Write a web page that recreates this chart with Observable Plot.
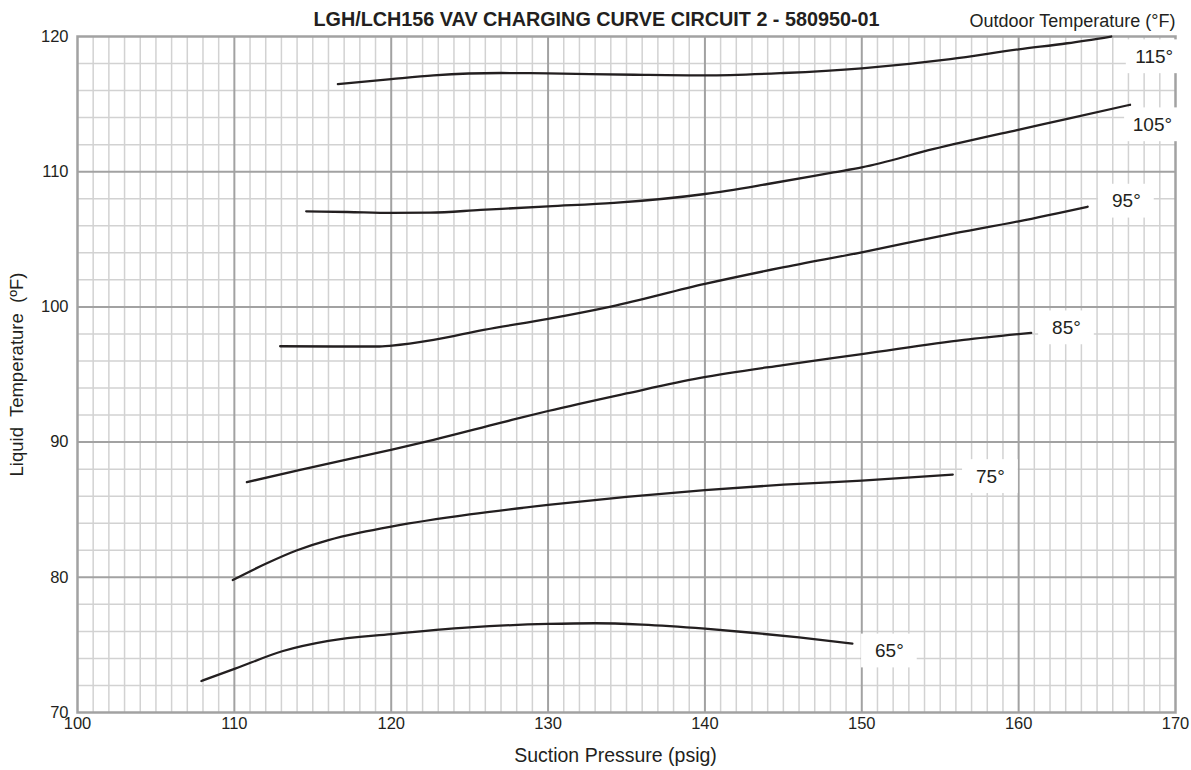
<!DOCTYPE html>
<html><head><meta charset="utf-8">
<script src="https://cdn.jsdelivr.net/npm/d3@7"></script>
<script src="https://cdn.jsdelivr.net/npm/@observablehq/plot@0.6"></script>
<style>body{margin:0;background:#fff;font-family:"Liberation Sans",Arial,sans-serif}</style>
</head><body><div id="chart"></div>
<script>
// Outdoor temperature series (°F)
const outdoorTemps = [65, 75, 85, 95, 105, 115];

// Suction pressure (psig) and liquid temperature (°F) per curve
const suction65 = [107.9, 110.05, 113.1, 116, 120, 125, 130, 133, 136, 140, 143, 146, 149.4];
const liquid65  = [72.33, 73.24, 74.55, 75.3, 75.8, 76.3, 76.55, 76.6, 76.5, 76.2, 75.9, 75.55, 75.1];

const suction75 = [109.9, 112, 114, 116, 118, 120, 125, 130, 135, 140, 145, 150, 155.8];
const liquid75  = [79.8, 81.0, 82.0, 82.75, 83.3, 83.75, 84.65, 85.35, 85.95, 86.45, 86.85, 87.15, 87.6];

const suction85 = [110.8, 114.2, 120.05, 122.7, 126.95, 130, 135, 139.7, 145, 150, 156.5, 160.8];
const liquid85  = [87.04, 87.95, 89.45, 90.17, 91.42, 92.3, 93.6, 94.75, 95.7, 96.5, 97.56, 98.08];

const suction95 = [112.92, 116.3, 119.1, 120.05, 122.7, 125.9, 130, 134, 140, 144.8, 150, 155.4, 160, 164.4];
const liquid95  = [97.09, 97.07, 97.07, 97.14, 97.56, 98.3, 99.11, 100.02, 101.7, 102.88, 104.04, 105.32, 106.33, 107.41];

const suction105 = [114.58, 117.2, 120.05, 122.5, 125.7, 130, 134.2, 140, 144, 148.2, 150, 154.6, 159.9, 163.1, 167.1];
const liquid105  = [107.07, 107.02, 106.95, 106.97, 107.17, 107.44, 107.69, 108.35, 109.09, 109.95, 110.32, 111.68, 113.08, 113.9, 114.95];

const suction115 = [116.6, 120, 122.7, 127, 130, 135.5, 140, 145, 150, 155.65, 160, 163.1, 165.9];
const liquid115  = [116.48, 116.85, 117.12, 117.3, 117.27, 117.17, 117.12, 117.3, 117.65, 118.33, 119.05, 119.5, 120.0];

// Curve label anchor positions (in data units) and texts
const labelTexts   = ["65°", "75°", "85°", "95°", "105°", "115°"];
const labelSuction = [151.76, 158.2, 163.05, 166.87, 168.53, 168.64];
const labelLiquid  = [74.55, 87.45, 98.45, 107.82, 113.47, 118.5];

// Axis ticks
const xTicks = [100, 110, 120, 130, 140, 150, 160, 170];
const yTicks = [70, 80, 90, 100, 110, 120];

const titleText = "LGH/LCH156 VAV CHARGING CURVE CIRCUIT 2 - 580950-01";
const legendTitle = "Outdoor Temperature (°F)";
const xLabel = "Suction Pressure (psig)";
const yLabel = "Liquid  Temperature  (ºF)";

const seriesP = [suction65, suction75, suction85, suction95, suction105, suction115];
const seriesT = [liquid65, liquid75, liquid85, liquid95, liquid105, liquid115];
const rows = outdoorTemps.flatMap((o, i) => seriesP[i].map((p, j) => ({series: o, p, t: seriesT[i][j]})));
const labels = labelTexts.map((text, i) => ({text, p: labelSuction[i], t: labelLiquid[i]}));

const minorX = d3.range(101, 170).filter(v => v % 10 !== 0);
const minorY = d3.range(72, 120, 2).filter(v => v % 10 !== 0);
const majorX = xTicks.slice(1, -1);
const majorY = yTicks.slice(1, -1);

const boxW = 3.55, boxH = 2.5;
const ink = "#231f20";

const chart = Plot.plot({
  width: 1191, height: 770,
  marginLeft: 77, marginRight: 16, marginTop: 36, marginBottom: 58,
  style: {fontFamily: "'Liberation Sans', Arial, sans-serif", fontSize: "16px", color: ink, background: "white"},
  x: {domain: [100, 170]},
  y: {domain: [70, 120]},
  marks: [
    Plot.ruleX(minorX, {stroke: "#d2d2d2", strokeWidth: 1.5}),
    Plot.ruleY(minorY, {stroke: "#d2d2d2", strokeWidth: 1.5}),
    Plot.ruleX(majorX, {stroke: "#a2a2a2", strokeWidth: 2}),
    Plot.ruleY(majorY, {stroke: "#a2a2a2", strokeWidth: 2}),
    Plot.frame({stroke: "#a2a2a2", strokeWidth: 2.5}),
    Plot.rect(labels, {x1: d => d.p - boxW / 2, x2: d => d.p + boxW / 2, y1: d => d.t - boxH / 2, y2: d => d.t + boxH / 2, fill: "white"}),
    Plot.line(rows, {x: "p", y: "t", z: "series", curve: "monotone-x", stroke: ink, strokeWidth: 2.3}),
    Plot.text(labels, {x: "p", y: "t", text: "text", fontSize: 19, fill: ink, textAnchor: "middle", lineAnchor: "middle"}),
    Plot.axisX({ticks: xTicks, tickSize: 0, tickPadding: 5, label: null, fontSize: 16.5}),
    Plot.axisY({ticks: yTicks, tickSize: 0, tickPadding: 9, label: null, fontSize: 16.5}),
    Plot.text([titleText], {frameAnchor: "top", dy: -17, dx: -30, text: d => d, lineAnchor: "middle", fontWeight: "bold", fontSize: 19.8, fill: ink}),
    Plot.text([legendTitle], {frameAnchor: "top-right", dy: -15, text: d => d, textAnchor: "end", lineAnchor: "middle", fontSize: 18, fill: ink}),
    Plot.text([xLabel], {frameAnchor: "bottom", dy: 43, dx: -11, text: d => d, lineAnchor: "middle", fontSize: 19.5, fill: ink}),
    Plot.text([yLabel], {frameAnchor: "left", dx: -60, rotate: -90, text: d => d, textAnchor: "middle", lineAnchor: "middle", fontSize: 18.5, fill: ink})
  ]
});
document.getElementById("chart").appendChild(chart);
</script>
</body></html>
